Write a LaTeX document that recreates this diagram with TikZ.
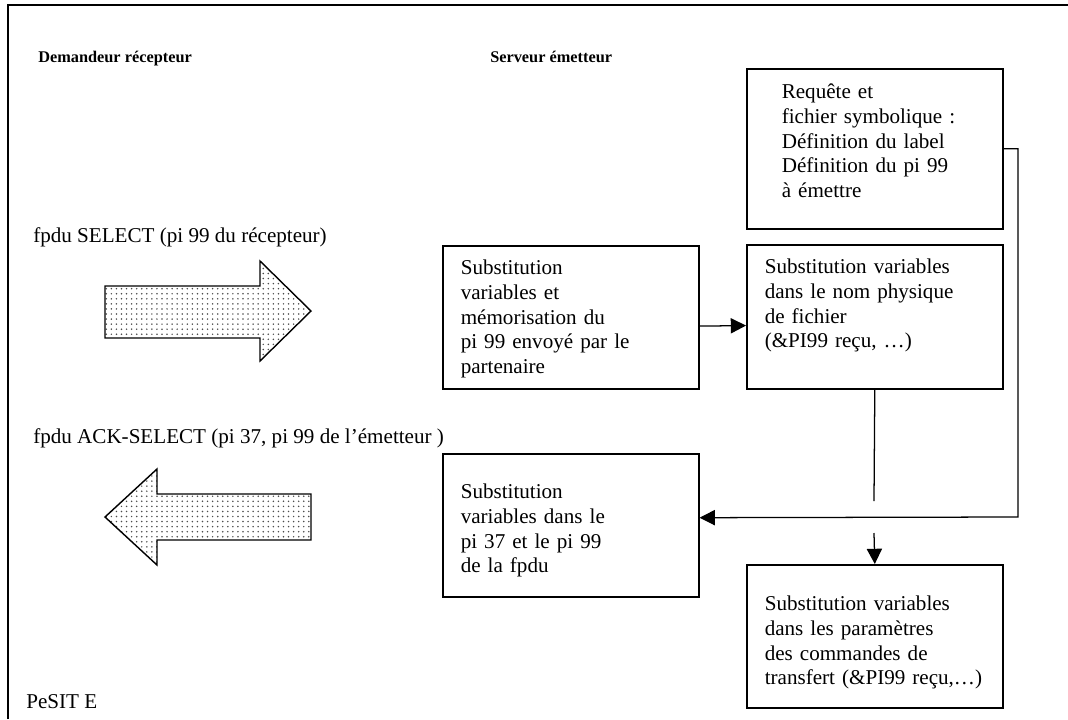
\documentclass[tikz,border=0pt]{standalone}
\usepackage{fontspec}
\setmainfont{Liberation Serif}
\usetikzlibrary{arrows.meta,patterns.meta}

\newcommand{\txtfont}{\fontsize{15}{17.5}\selectfont}
\newcommand{\hdrfont}{\fontsize{11.6}{14}\selectfont\bfseries}

\tikzset{
	box/.style={draw,line width=1.1pt,anchor=north west,align=left,inner xsep=0.45cm,inner ysep=0pt,text width=5.5cm,font=\txtfont},
	conn/.style={line width=0.9pt,-{Triangle[length=0.38cm,width=0.38cm]}},
	lbl/.style={anchor=base west,inner sep=0pt,font=\txtfont},
	hdr/.style={anchor=base west,inner sep=0pt,font=\hdrfont},
	bigarrow/.style={draw,line width=1pt,pattern={Dots[distance=3.6pt,radius=0.6pt]},pattern color=black!70}
}

\begin{document}
\begin{tikzpicture}[x=0.025cm,y=-0.025cm]
	\useasboundingbox (0,0) rectangle (1068,719);
	
	%FRAME
	\draw[line width=1.4pt] (8,719)--(8,5)--(1068,5);
	
	%HEADERS
	\node[hdr] (dem) at (38,62) {Demandeur récepteur};
	\node[hdr] (srv) at (490,62) {Serveur émetteur};
	
	%BOXES -- SERVEUR
	\node[box,inner xsep=0.875cm,text width=4.65cm,text height=0.75cm,text depth=3.25cm] (req) at (746,68) {Requête et\\fichier symbolique :\\Définition du label\\Définition du pi 99\\à émettre};
	\node[box,text height=0.725cm,text depth=2.875cm] (nom) at (746,244) {Substitution variables\\dans le nom physique\\de fichier\\(\&PI99 reçu, …)};
	\node[box,text height=0.725cm,text depth=2.85cm] (mem) at (442,245) {Substitution\\variables et\\mémorisation du\\pi 99 envoyé par le\\partenaire};
	\node[box,text height=1.125cm,text depth=2.45cm] (sub) at (442,453) {Substitution\\variables dans le\\pi 37 et le pi 99\\de la fpdu};
	\node[box,text height=1.15cm,text depth=2.425cm] (par) at (746,564) {Substitution variables\\dans les paramètres\\des commandes de\\transfert (\&PI99 reçu,…)};
	
	%connectors
	\coordinate (turn) at (1018,517);
	\coordinate (cut) at (874,501);		%line stops before crossing
	\coordinate (hop) at (874,533);
	\draw[conn] ([yshift=-0.22cm]mem.east)--([yshift=-0.22cm]nom.west);
	\draw[conn] (req.east) -| (turn)--([yshift=0.19cm]sub.east);
	\draw[line width=0.9pt] (nom.south)--(cut);
	\draw[conn] (hop)--(par.north);
	
	%LABELS -- DEMANDEUR
	\node[lbl] (sel) at (33,242) {fpdu SELECT (pi 99 du récepteur)};
	\draw[bigarrow] (105,286)--(260,286)--(260,261)--(311,311)--(260,361)--(260,338)--(105,338)--cycle;	%to the right
	\node[lbl] (ack) at (33,443) {fpdu ACK-SELECT (pi 37, pi 99 de l’émetteur )};
	\draw[bigarrow] (311,494)--(157,494)--(157,469)--(105,517)--(157,565)--(157,540)--(311,540)--cycle;	%to the left
	\node[lbl] (pesit) at (26,708) {PeSIT E};
	
\end{tikzpicture}
\end{document}
